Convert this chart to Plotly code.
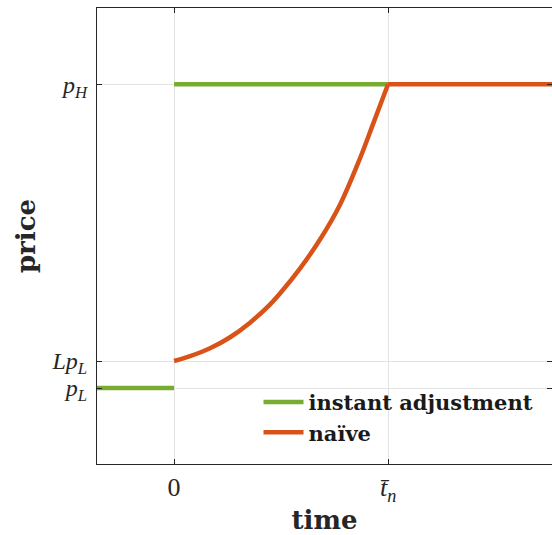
import plotly.graph_objects as go

# values
p_L = 1.0
Lp_L = 1.1
p_H = 2.125
t_n = 1.0
x_min, x_max = -0.36, 1.766
y_min, y_max = 0.7185, 2.4074

instant_x = [x_min, 0.0, None, 0.0, t_n]
instant_y = [p_L, p_L, None, p_H, p_H]

naive_x = [0.0, 0.075, 0.168, 0.262, 0.355, 0.449, 0.495, 0.589, 0.682, 0.776, 0.869, 0.931, 1.0, x_max]
naive_y = [1.1, 1.118, 1.147, 1.188, 1.242, 1.310, 1.350, 1.443, 1.550, 1.680, 1.851, 1.980, 2.125, 2.125]

x_tickvals = [0.0, t_n]
x_ticktext = ["0", "<i>t̄</i><sub><i>n</i></sub>"]
y_tickvals = [p_L, Lp_L, p_H]
y_ticktext = ["<i>p</i><sub><i>L</i></sub>", "<i>Lp</i><sub><i>L</i></sub>", "<i>p</i><sub><i>H</i></sub>"]

GREEN = "#77AC30"
ORANGE = "#D95319"
AX = "#262626"
GRID = "#e3e3e3"
FONT = "Liberation Serif"
BFONT = "DejaVu Serif"

fig = go.Figure()
fig.add_trace(go.Scatter(x=instant_x, y=instant_y, mode="lines", name="<b>instant adjustment</b>",
                         line=dict(color=GREEN, width=4.5)))
fig.add_trace(go.Scatter(x=naive_x[:13], y=naive_y[:13], mode="lines", name="<b>naïve</b>",
                         line=dict(color=ORANGE, width=4.5, shape="spline", smoothing=1.0),
                         legendgroup="n"))
fig.add_trace(go.Scatter(x=naive_x[12:], y=naive_y[12:], mode="lines", showlegend=False,
                         line=dict(color=ORANGE, width=4.5), legendgroup="n"))

fig.update_layout(
    width=552, height=535,
    margin=dict(l=97, r=0, t=8, b=71, autoexpand=False),
    plot_bgcolor="white", paper_bgcolor="white",
    font=dict(family=FONT, color=AX, size=20),
    showlegend=True,
    legend=dict(x=0.355, y=0.18, xanchor="left", yanchor="top",
                bgcolor="rgba(0,0,0,0)", font=dict(family=BFONT, size=21, color="#1a1a1a"),
                tracegroupgap=0, itemwidth=40),
    xaxis=dict(range=[x_min, x_max], tickvals=x_tickvals, ticktext=x_ticktext,
               showgrid=True, gridcolor=GRID, gridwidth=1, zeroline=False,
               showline=True, linecolor=AX, linewidth=1, mirror="ticks",
               ticks="inside", ticklen=5, tickcolor=AX, automargin=False,
               tickfont=dict(family=FONT, size=26, color=AX),
               title=dict(text="<b>time</b>", font=dict(family=BFONT, size=26, color=AX), standoff=8)),
    yaxis=dict(range=[y_min, y_max], tickvals=y_tickvals, ticktext=y_ticktext,
               showgrid=True, gridcolor=GRID, gridwidth=1, zeroline=False,
               showline=True, linecolor=AX, linewidth=1, mirror="ticks",
               ticks="inside", ticklen=5, tickcolor=AX, automargin=False,
               ticklabelstandoff=4,
               tickfont=dict(family=FONT, size=24, color=AX),
               title=dict(text="<b>price</b>", font=dict(family=BFONT, size=26, color=AX), standoff=8)),
)

fig.write_html("out.html", config={"displayModeBar": False},
               post_script="document.body.style.margin='0';document.body.style.overflow='hidden';")
